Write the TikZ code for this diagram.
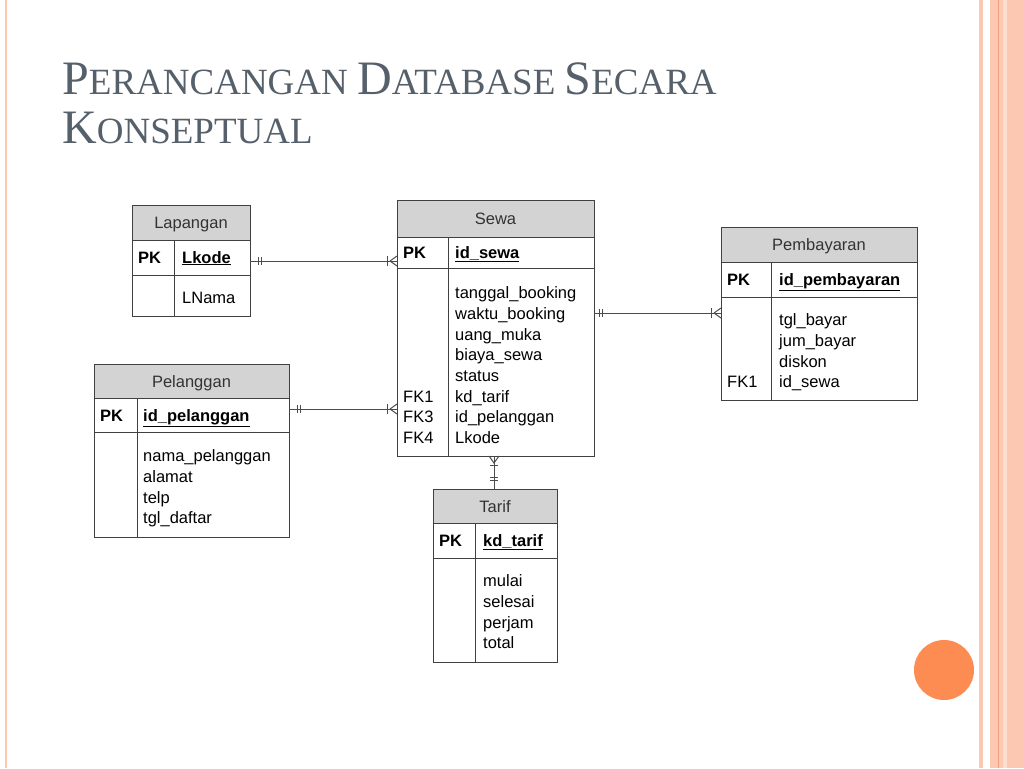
\documentclass[tikz,border=0pt]{standalone}
\usepackage{fontspec}
\setmainfont{Liberation Serif}
\newfontfamily\tsans{Liberation Sans}
\usetikzlibrary{calc}
\definecolor{hdr}{HTML}{D3D3D3}
\definecolor{ttl}{HTML}{56606A}
\definecolor{salm}{HTML}{FDC8B2}
\definecolor{salmd}{HTML}{F0A080}
\definecolor{orng}{HTML}{FC8C52}
\tikzset{x=1pt,y=-1pt,
 ln/.style={draw=black!75,line width=1pt},
 conn/.style={draw=black!70,line width=1pt},
 txt/.style={font=\tsans\fontsize{16.5}{18}\selectfont,anchor=base west,inner sep=0pt,yshift=-6pt},
 hd/.style={font=\tsans\fontsize{16.5}{18}\selectfont,inner sep=0pt,anchor=base,yshift=-6pt,text=black!80},
 pk/.style={font=\tsans\bfseries\fontsize{16.5}{18}\selectfont,anchor=base west,inner sep=0pt,yshift=-6pt}}
\newcommand{\ertable}[9]{%
 \fill[hdr] (#2,#4) rectangle (#3,#5);
 \draw[ln] (#2,#4) rectangle (#3,#7);
 \draw[ln] (#2,#5) -- (#3,#5);
 \draw[ln] (#2,#6) -- (#3,#6);
 \draw[ln] (#8,#5) -- (#8,#7);
 \node[hd] (#1-h) at ({(#2+#3)/2},{(#4+#5)/2}) {#9};
 \node[pk] at ({#2+6},{(#5+#6)/2}) {PK};
}
\begin{document}
\begin{tikzpicture}
\useasboundingbox (0,0) rectangle (1024,768);
\fill[white] (0,0) rectangle (1024,768);
\draw[salm,line width=1.5pt] (6,0) -- (6,768);
\fill[salm] (979,0) rectangle (983,768);
\fill[salm] (990,0) rectangle (1024,768);
\draw[salmd,line width=1pt] (998,0) -- (998,768);
\fill[salm!60] (1003,0) rectangle (1007,768);
\fill[orng] (944,670) circle (30);
\node[anchor=base west,inner sep=0pt,text=ttl] (t1) at (62,94) {\fontsize{48}{50}\selectfont P\fontsize{37}{38}\selectfont ERANCANGAN \fontsize{48}{50}\selectfont D\fontsize{37}{38}\selectfont ATABASE \fontsize{48}{50}\selectfont S\fontsize{37}{38}\selectfont ECARA};
\node[anchor=base west,inner sep=0pt,text=ttl] (t2) at (62,143) {\fontsize{48}{50}\selectfont K\fontsize{37}{38}\selectfont ONSEPTUAL};
\ertable{lap}{132}{250}{205}{240}{275}{316}{174}{Lapangan}
\node[pk] at (182,257) {\underline{Lkode}};
\node[txt] at (182,297) {LNama};
\ertable{sew}{397}{594}{200}{237}{268}{456}{448}{Sewa}
\node[pk] at (455,252) {\underline{id\_sewa}};
\foreach \t [count=\i] in {tanggal\_booking,waktu\_booking,uang\_muka,biaya\_sewa,status,kd\_tarif,id\_pelanggan,Lkode}
  \node[txt] at (455,{272+\i*20.7}) {\t};
\node[txt] at (403,396) {FK1};
\node[txt] at (403,416.5) {FK3};
\node[txt] at (403,437) {FK4};
\ertable{pem}{721}{917}{227}{262}{297}{400}{771}{Pembayaran}
\node[pk] at (779,279) {\underline{id\_pembayaran}};
\foreach \t [count=\i] in {tgl\_bayar,jum\_bayar,diskon,id\_sewa}
  \node[txt] at (779,{299+\i*20.7}) {\t};
\node[txt] at (727,381) {FK1};
\ertable{pel}{94}{289}{364}{398}{432}{537}{137}{Pelanggan}
\node[pk] at (143,415) {\underline{id\_pelanggan}};
\foreach \t [count=\i] in {nama\_pelanggan,alamat,telp,tgl\_daftar}
  \node[txt] at (143,{435+\i*20.7}) {\t};
\ertable{tar}{433}{557}{489}{523}{558}{662}{475}{Tarif}
\node[pk] at (483,540) {\underline{kd\_tarif}};
\foreach \t [count=\i] in {mulai,selesai,perjam,total}
  \node[txt] at (483,{560+\i*20.7}) {\t};
\coordinate (a1) at (250,261); \coordinate (a2) at (397,261);
\coordinate (b1) at (289,409); \coordinate (b2) at (397,409);
\coordinate (c1) at (594,313); \coordinate (c2) at (721,313);
\coordinate (d1) at (494,456); \coordinate (d2) at (494,489);
\foreach \p/\q in {a1/a2,b1/b2} {
  \draw[conn] (\p) -- (\q);
  \draw[conn] ($(\p)+(8,-4)$) -- ++(0,8) ($(\p)+(11,-4)$) -- ++(0,8);
  \draw[conn] ($(\q)+(-10,-5)$) -- ++(0,10);
  \draw[conn] ($(\q)+(-7,0)$) -- ($(\q)+(0,-5)$) ($(\q)+(-7,0)$) -- ($(\q)+(0,5)$);
}
\draw[conn] (c1) -- (c2);
\draw[conn] ($(c1)+(5,-4)$) -- ++(0,8) ($(c1)+(8,-4)$) -- ++(0,8);
\draw[conn] ($(c2)+(-10,-5)$) -- ++(0,10);
\draw[conn] ($(c2)+(-7,0)$) -- ($(c2)+(0,-5)$) ($(c2)+(-7,0)$) -- ($(c2)+(0,5)$);
\draw[conn] (d1) -- (d2);
\draw[conn] ($(d1)+(-5,0)$) -- ($(d1)+(0,7)$) -- ($(d1)+(5,0)$);
\draw[conn] ($(d1)+(-4,9)$) -- ++(8,0);
\draw[conn] ($(d2)+(-4,-12)$) -- ++(8,0) ($(d2)+(-4,-9)$) -- ++(8,0);
\end{tikzpicture}
\end{document}
